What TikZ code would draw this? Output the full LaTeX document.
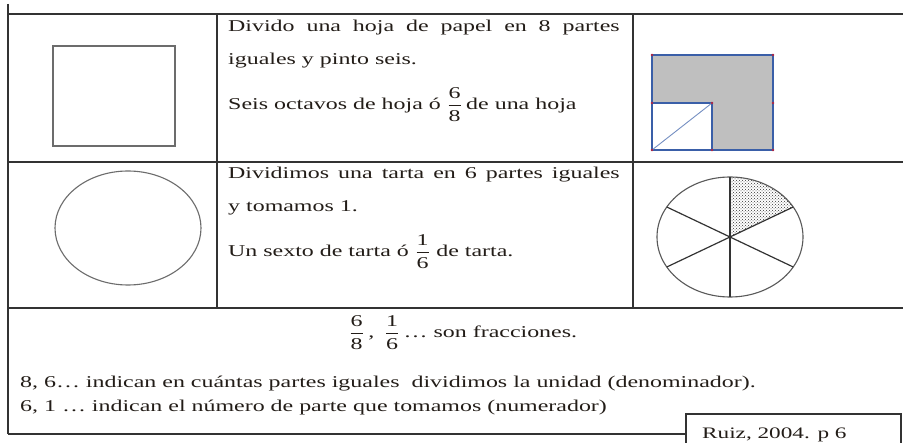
\documentclass[tikz,border=0pt]{standalone}
\usepackage{amsmath}
\usepackage{graphicx}
\usepackage{fontspec}
\setmainfont{Liberation Serif}
\usetikzlibrary{patterns}
\definecolor{rule}{HTML}{333333}
\definecolor{txt}{HTML}{231D18}
\definecolor{blueln}{HTML}{3A5FA8}
\definecolor{greyfill}{HTML}{BFBFBF}
\newcommand{\myfrac}[2]{$\genfrac{}{}{0.8pt}{0}{\mbox{#1}}{\mbox{#2}}$}
\newcommand{\sx}[1]{\scalebox{1.45}[1]{#1}}
\tikzset{
  tline/.style={draw=rule, line width=1.4pt},
  txtnode/.style={anchor=base west, inner sep=0pt, text=txt, font=\fontsize{16.5}{20}\selectfont},
  shapeline/.style={draw=gray!85!black, line width=1.3pt},
}
\begin{document}
\begin{tikzpicture}[x=1pt,y=1pt]
\useasboundingbox (0,0) rectangle (903,-443);
\fill[white] (0,0) rectangle (903,-443);
% table lines
\draw[tline] (8,-4) -- (8,-434);
\draw[tline] (8,-14) -- (903,-14);
\draw[tline] (8,-162) -- (903,-162);
\draw[tline] (8,-308) -- (903,-308);
\draw[tline] (217,-14) -- (217,-308);
\draw[tline] (633,-14) -- (633,-308);
\draw[tline] (8,-434) -- (686,-434);
% column 1 shapes
\draw[shapeline] (53,-46) rectangle (175,-146);
\draw[shapeline, line width=1.1pt] (128,-228) ellipse [x radius=73pt, y radius=57pt];
% shaded square
\fill[greyfill] (652,-55) rectangle (773,-150);
\fill[white] (652,-103) rectangle (712,-150);
\draw[blueln, line width=1.2pt] (652,-55) rectangle (773,-150);
\draw[blueln, line width=1.2pt] (652,-103) -- (712,-103) -- (712,-150);
\draw[blueln!70, line width=0.9pt] (652,-150) -- (712,-103);
\foreach \p in {(652,-55),(773,-55),(773,-150),(652,-150),(652,-103),(712,-103),(712,-150),(773,-103)}
  \fill[red!60!blueln] \p circle (1.3pt);
% pie
\coordinate (pc) at (730,-237);
\fill[pattern=crosshatch dots, pattern color=black!80] (pc) -- ++(30:73pt and 60pt) arc[start angle=30, end angle=90, x radius=73pt, y radius=60pt] -- cycle;
\draw[draw=gray!70!black, line width=1.1pt] (pc) ellipse [x radius=73pt, y radius=60pt];
\foreach \a in {30,90,150,210,270,330}
  \draw[draw=rule, line width=1.2pt] (pc) -- ++(\a:73pt and 60pt);
% column 2 texts
\node[txtnode] (t1) at (228,-32) {\sx{\makebox[270pt][s]{Divido una hoja de papel en 8 partes}}};
\node[txtnode] (t2) at (228,-65) {\sx{iguales y pinto seis.}};
\node[txtnode] (t3) at (228,-110) {\sx{Seis octavos de hoja ó \myfrac{6}{8}\,de una hoja}};
\node[txtnode] (t4) at (228,-179) {\sx{\makebox[270pt][s]{Dividimos una tarta en 6 partes iguales}}};
\node[txtnode] (t5) at (228,-212) {\sx{y tomamos 1.}};
\node[txtnode] (t6) at (228,-257) {\sx{Un sexto de tarta ó \myfrac{1}{6} de tarta.}};
% bottom texts
\node[txtnode, anchor=base] (b1) at (463,-338) {\sx{\myfrac{6}{8}\,,\, \myfrac{1}{6}\,… son fracciones.}};
\node[txtnode] (b2) at (20,-388) {\sx{8, 6… indican en cuántas partes iguales\ \ dividimos la unidad (denominador).}};
\node[txtnode] (b3) at (20,-412) {\sx{6, 1 … indican el número de parte que tomamos (numerador)}};
% citation box
\draw[draw=rule, line width=1.2pt, fill=white] (686,-450) -- (686,-414) -- (901,-414) -- (901,-450);
\node[txtnode, font=\fontsize{16}{19}\selectfont] (cite) at (702,-439) {\sx{Ruiz, 2004. p 6}};
\end{tikzpicture}
\end{document}
